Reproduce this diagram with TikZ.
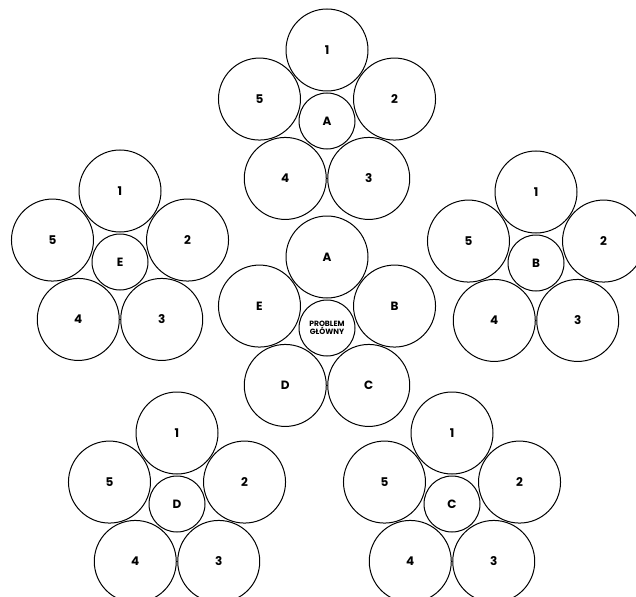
\documentclass[tikz,border=0pt]{standalone}
\usepackage{fontspec}
\setmainfont{Poppins}
\begin{document}
\begin{tikzpicture}[x=1pt,y=-1pt,
  petal/.style={draw, circle, line width=1pt, minimum size=82pt, inner sep=0pt, font=\bfseries\fontsize{12}{13}\selectfont},
  core/.style={draw, circle, line width=1pt, minimum size=56pt, inner sep=0pt, font=\bfseries\fontsize{12}{13}\selectfont},
  mainlabel/.style={font=\bfseries\fontsize{7.6}{8.6}\selectfont, align=center}]
\useasboundingbox (0,0) rectangle (636,596);
\clip (0,0) rectangle (636,596);
% outer flowers
\foreach \n/\x/\y/\lab in {T/327/121/A, L/120/262/E, R/536/263/B, BL/177/504/D, BR/452/504/C}{
  \node[core] (\n) at (\x,\y) {\lab};
  \foreach \i/\a in {1/90, 2/18, 3/-54, 4/-126, 5/162}{
    \node[petal] (\n\i) at ([shift={(\a:71pt)}]\n.center) {\i};
  }
}
% central flower
\node[core, mainlabel] (M) at (327,328) {PROBLEM\\GŁÓWNY};
\foreach \i/\a/\l in {1/90/A, 2/18/B, 3/-54/C, 4/-126/D, 5/162/E}{
  \node[petal] (M\i) at ([shift={(\a:71pt)}]M.center) {\l};
}
\end{tikzpicture}
\end{document}
